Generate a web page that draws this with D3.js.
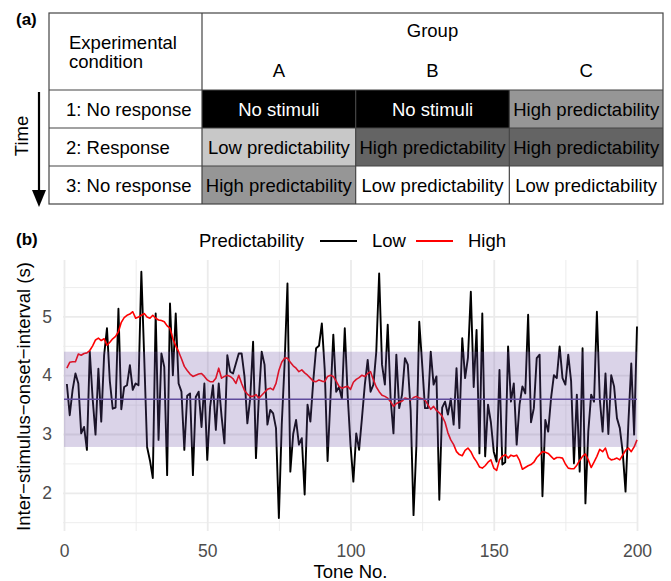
<!DOCTYPE html>
<html>
<head>
<meta charset="utf-8">
<script src="https://cdn.jsdelivr.net/npm/d3@7/dist/d3.min.js"></script>
<style>
	body { margin: 0; background: #fff; }
	text { font-family: "Liberation Sans", Arial, sans-serif; }
</style>
</head>
<body>
<div id="svg-div"></div>
<script>
// ---- panel (a) table content
var groups = ["A", "B", "C"];
var conditions = ["1: No response", "2: Response", "3: No response"];
var cellLabels = [
	["No stimuli", "No stimuli", "High predictability"],
	["Low predictability", "High predictability", "High predictability"],
	["High predictability", "Low predictability", "Low predictability"]
];

// ---- panel (b) data: inter-stimulus-onset-interval per tone
var seriesNames = ["Low", "High"];
var isiLow = [
	3.85, 3.32, 3.75, 4.03, 3.86, 3.01, 3.12, 2.73, 4.40, 3.60,
	2.99, 4.11, 3.21, 4.34, 4.80, 3.90, 3.43, 3.45, 5.13, 3.42,
	3.80, 3.83, 4.17, 3.75, 3.86, 3.83, 5.76, 4.30, 2.78, 2.55,
	2.25, 5.05, 2.90, 4.37, 4.14, 2.30, 5.22, 4.00, 5.05, 3.86,
	3.72, 2.73, 3.65, 3.69, 2.30, 3.63, 3.72, 3.12, 3.86, 2.56,
	3.46, 3.83, 3.07, 3.86, 3.30, 2.84, 4.34, 4.06, 4.03, 4.20,
	4.37, 4.37, 3.98, 3.18, 3.61, 4.57, 2.59, 3.61, 4.40, 4.18,
	3.16, 3.41, 3.35, 3.10, 1.57, 3.16, 4.20, 5.56, 2.36, 3.00,
	3.24, 2.82, 2.93, 1.97, 3.50, 3.21, 3.90, 4.46, 4.50, 4.88,
	4.10, 2.54, 3.60, 4.69, 3.72, 3.80, 3.60, 4.80, 3.67, 2.82,
	2.19, 3.01, 2.73, 3.27, 3.84, 4.26, 3.72, 3.84, 4.40, 5.73,
	4.18, 3.84, 4.86, 3.60, 3.01, 4.35, 3.44, 3.67, 4.29, 4.18,
	3.40, 1.62, 2.80, 4.91, 4.20, 3.44, 3.44, 4.40, 3.84, 3.98,
	1.88, 3.45, 3.55, 3.33, 3.60, 3.16, 4.12, 3.10, 4.63, 3.95,
	4.30, 5.42, 3.80, 4.77, 2.67, 5.05, 2.62, 3.50, 3.20, 2.70,
	2.53, 4.09, 2.48, 2.52, 4.49, 3.55, 3.86, 2.82, 3.50, 3.81,
	3.69, 5.03, 3.20, 3.44, 4.29, 4.35, 1.94, 3.24, 3.04, 3.61,
	4.00, 3.95, 4.49, 3.95, 3.84, 4.35, 3.90, 2.50, 3.67, 2.36,
	4.46, 1.82, 3.04, 3.67, 3.55, 5.08, 3.60, 3.04, 4.03, 3.00,
	4.00, 3.81, 3.27, 3.10, 2.70, 2.02, 3.20, 4.20, 2.99, 4.83
];
var isiHigh = [
	4.12, 4.22, 4.23, 4.23, 4.36, 4.34, 4.37, 4.38, 4.42, 4.50,
	4.60, 4.63, 4.59, 4.62, 4.51, 4.56, 4.62, 4.66, 4.74, 4.90,
	4.98, 5.02, 5.04, 5.08, 4.97, 4.99, 5.02, 5.05, 4.99, 4.97,
	5.02, 4.97, 4.94, 4.93, 4.91, 4.84, 4.80, 4.62, 4.50, 4.40,
	4.28, 4.15, 4.08, 4.02, 3.98, 4.00, 4.02, 4.03, 3.98, 3.92,
	3.89, 3.89, 3.95, 4.12, 3.95, 3.98, 4.00, 3.98, 3.94, 3.86,
	4.00, 3.86, 3.74, 3.68, 3.64, 3.64, 3.67, 3.61, 3.66, 3.71,
	3.76, 3.78, 3.75, 3.86, 4.08, 4.22, 4.29, 4.29, 4.22, 4.16,
	4.12, 4.06, 4.09, 4.04, 4.00, 3.95, 3.90, 3.89, 3.92, 3.90,
	3.89, 3.98, 4.00, 3.98, 3.90, 3.81, 3.78, 3.80, 3.81, 3.76,
	3.88, 3.93, 3.96, 4.00, 3.98, 4.03, 4.06, 3.92, 3.80, 3.72,
	3.66, 3.64, 3.61, 3.55, 3.47, 3.52, 3.54, 3.56, 3.61, 3.60,
	3.58, 3.62, 3.64, 3.61, 3.60, 3.58, 3.50, 3.42, 3.47, 3.40,
	3.36, 3.30, 3.20, 3.02, 2.90, 2.82, 2.70, 2.65, 2.63, 2.72,
	2.76, 2.70, 2.60, 2.53, 2.44, 2.42, 2.46, 2.52, 2.56, 2.42,
	2.38, 2.56, 2.62, 2.65, 2.59, 2.64, 2.62, 2.64, 2.55, 2.40,
	2.43, 2.46, 2.48, 2.52, 2.60, 2.65, 2.70, 2.69, 2.67, 2.62,
	2.57, 2.60, 2.60, 2.59, 2.49, 2.42, 2.41, 2.41, 2.47, 2.55,
	2.62, 2.66, 2.56, 2.43, 2.52, 2.62, 2.74, 2.70, 2.76, 2.60,
	2.56, 2.57, 2.59, 2.56, 2.64, 2.72, 2.76, 2.70, 2.78, 2.90
];
// mean +/- sd band of the low predictability series
var bandLower = 2.78;
var bandMean = 3.59;
var bandUpper = 4.40;

var xTicks = [0, 50, 100, 150, 200];
var xMinor = [25, 75, 125, 175];
var yTicks = [2, 3, 4, 5];
var yMinor = [1.5, 2.5, 3.5, 4.5, 5.5];

var svg = d3.select("#svg-div")
	.append("svg")
	.attr("width", 671)
	.attr("height", 581);

/**
 *  Panel (a)
 */
var table = {left: 49, right: 663, top: 13, headBottom: 90, bottom: 204, colStart: 202};

var colScale = d3.scaleBand()
	.domain(groups)
	.range([table.colStart, table.right]);

var rowScale = d3.scaleBand()
	.domain([0, 1, 2])
	.range([table.headBottom, table.bottom]);

function cellFill(label, row) {
	if (label == "No stimuli") return "#000";
	if (row == 1) {
		return label.indexOf("High") == 0 ? "#646464" : "#c8c8c8";
	}
	return label.indexOf("High") == 0 ? "#969696" : "#fff";
}

var cells = [];
cellLabels.forEach(function(row, i) {
	row.forEach(function(label, j) {
		cells.push({row: i, group: groups[j], label: label});
	});
});

var tableG = svg.append("g");

tableG.selectAll("rect.cell")
	.data(cells)
	.enter()
	.append("rect")
	.attr("class", "cell")
	.attr("x", function(d) { return colScale(d.group); })
	.attr("y", function(d) { return rowScale(d.row); })
	.attr("width", colScale.bandwidth())
	.attr("height", rowScale.bandwidth())
	.attr("fill", function(d) { return cellFill(d.label, d.row); });

tableG.selectAll("text.cell")
	.data(cells)
	.enter()
	.append("text")
	.attr("class", "cell")
	.attr("x", function(d) { return colScale(d.group) + colScale.bandwidth() / 2; })
	.attr("y", function(d) { return rowScale(d.row) + rowScale.bandwidth() / 2 + 6.5; })
	.attr("text-anchor", "middle")
	.style("font-size", "18.5px")
	.attr("fill", function(d) { return d.label == "No stimuli" ? "#fff" : "#000"; })
	.text(function(d) { return d.label; });

// table lines
var lineColor = "#444";
tableG.append("rect")
	.attr("x", table.left)
	.attr("y", table.top)
	.attr("width", table.right - table.left)
	.attr("height", table.bottom - table.top)
	.attr("fill", "none")
	.attr("stroke", lineColor)
	.attr("stroke-width", 1.2);

tableG.append("line")
	.attr("x1", table.colStart).attr("x2", table.colStart)
	.attr("y1", table.top).attr("y2", table.bottom)
	.attr("stroke", lineColor).attr("stroke-width", 1.2);

tableG.selectAll("line.col")
	.data(groups.slice(1))
	.enter()
	.append("line")
	.attr("class", "col")
	.attr("x1", function(d) { return colScale(d); })
	.attr("x2", function(d) { return colScale(d); })
	.attr("y1", table.headBottom)
	.attr("y2", table.bottom)
	.attr("stroke", lineColor).attr("stroke-width", 1.2);

tableG.selectAll("line.row")
	.data([0, 1, 2])
	.enter()
	.append("line")
	.attr("class", "row")
	.attr("x1", table.left)
	.attr("x2", table.right)
	.attr("y1", function(d) { return rowScale(d); })
	.attr("y2", function(d) { return rowScale(d); })
	.attr("stroke", lineColor).attr("stroke-width", 1.2);

// header
tableG.append("text")
	.attr("x", 69).attr("y", 49)
	.style("font-size", "18.5px")
	.text("Experimental");
tableG.append("text")
	.attr("x", 69).attr("y", 68)
	.style("font-size", "18.5px")
	.text("condition");
tableG.append("text")
	.attr("x", (table.colStart + table.right) / 2).attr("y", 37)
	.attr("text-anchor", "middle")
	.style("font-size", "18.5px")
	.text("Group");
tableG.selectAll("text.group")
	.data(groups)
	.enter()
	.append("text")
	.attr("class", "group")
	.attr("x", function(d) { return colScale(d) + colScale.bandwidth() / 2; })
	.attr("y", 77)
	.attr("text-anchor", "middle")
	.style("font-size", "18.5px")
	.text(function(d) { return d; });

tableG.selectAll("text.cond")
	.data(conditions)
	.enter()
	.append("text")
	.attr("class", "cond")
	.attr("x", 66)
	.attr("y", function(d, i) { return rowScale(i) + rowScale.bandwidth() / 2 + 6.5; })
	.style("font-size", "18.5px")
	.text(function(d) { return d; });

// time arrow
tableG.append("line")
	.attr("x1", 39).attr("x2", 39)
	.attr("y1", 92).attr("y2", 194)
	.attr("stroke", "#000").attr("stroke-width", 2.2);
tableG.append("path")
	.attr("d", "M32,190 L46,190 L39,207 Z")
	.attr("fill", "#000");
tableG.append("text")
	.attr("transform", "translate(28,136) rotate(-90)")
	.attr("text-anchor", "middle")
	.style("font-size", "18.5px")
	.text("Time");

svg.append("text")
	.attr("x", 16).attr("y", 25)
	.style("font-size", "17px")
	.style("font-weight", "bold")
	.text("(a)");

/**
 *  Panel (b)
 */
var plot = {left: 64, right: 637, top: 260, bottom: 531};

var xScale = d3.scaleLinear()
	.domain([0, 200])
	.range([plot.left, plot.right]);

var yScale = d3.scaleLinear()
	.domain([1.35, 5.96])
	.range([plot.bottom, plot.top]);

var gridColor = "#ebebeb";

// Gridlines
function drawGrid(axis, values, width, translate) {
	var g = svg.append("g")
		.attr("class", "grid")
		.attr("transform", translate)
		.call(axis.tickValues(values).tickFormat(""));
	g.select(".domain").remove();
	g.selectAll("line")
		.attr("stroke", gridColor)
		.attr("stroke-width", width);
}

drawGrid(d3.axisLeft(yScale).tickSize(-(plot.right - plot.left + 2)), yMinor, 0.9, "translate(" + (plot.left - 1) + ",0)");
drawGrid(d3.axisBottom(xScale).tickSize(-(plot.bottom - plot.top)), xMinor, 0.9, "translate(0," + plot.bottom + ")");
drawGrid(d3.axisLeft(yScale).tickSize(-(plot.right - plot.left + 2)), yTicks, 1.8, "translate(" + (plot.left - 1) + ",0)");
drawGrid(d3.axisBottom(xScale).tickSize(-(plot.bottom - plot.top)), xTicks, 1.8, "translate(0," + plot.bottom + ")");

// Axis labels
var xAxis = svg.append("g")
	.attr("transform", "translate(0," + plot.bottom + ")")
	.call(d3.axisBottom(xScale).tickValues(xTicks).tickFormat(d3.format("d")).tickSize(0).tickPadding(14));
var yAxis = svg.append("g")
	.attr("transform", "translate(" + plot.left + ",0)")
	.call(d3.axisLeft(yScale).tickValues(yTicks).tickFormat(d3.format("d")).tickSize(0).tickPadding(12));
[xAxis, yAxis].forEach(function(a) {
	a.select(".domain").remove();
	a.selectAll("text")
		.style("font-family", "'Liberation Sans', Arial, sans-serif")
		.style("font-size", "17.5px")
		.attr("fill", "#4d4d4d");
});

// Lines
var line = d3.line()
	.x(function(d, i) { return xScale(i + 1); })
	.y(function(d) { return yScale(d); });

svg.append("path")
	.datum(isiLow)
	.attr("d", line)
	.attr("fill", "none")
	.attr("stroke", "#000")
	.attr("stroke-width", 1.9)
	.attr("stroke-linejoin", "round");

svg.append("path")
	.datum(isiHigh)
	.attr("d", line)
	.attr("fill", "none")
	.attr("stroke", "#ff0000")
	.attr("stroke-width", 1.6)
	.attr("stroke-linejoin", "round");

// mean +/- sd band drawn on top
svg.append("rect")
	.attr("x", xScale(0))
	.attr("y", yScale(bandUpper))
	.attr("width", xScale(200) - xScale(0))
	.attr("height", yScale(bandLower) - yScale(bandUpper))
	.attr("fill", "#6a51a3")
	.attr("fill-opacity", 0.25);

svg.append("line")
	.attr("x1", xScale(0))
	.attr("x2", xScale(200))
	.attr("y1", yScale(bandMean))
	.attr("y2", yScale(bandMean))
	.attr("stroke", "#5e4a9c")
	.attr("stroke-width", 1.5);

// Titles
svg.append("text")
	.attr("x", (plot.left + plot.right) / 2)
	.attr("y", 578)
	.attr("text-anchor", "middle")
	.style("font-size", "18.5px")
	.text("Tone No.");

svg.append("text")
	.attr("transform", "translate(30," + ((plot.top + plot.bottom) / 2 + 1) + ") rotate(-90)")
	.attr("text-anchor", "middle")
	.style("font-size", "18.5px")
	.text("Inter\u2212stimulus\u2212onset\u2212interval (s)");

svg.append("text")
	.attr("x", 16).attr("y", 245)
	.style("font-size", "17px")
	.style("font-weight", "bold")
	.text("(b)");

// Legend
var legend = svg.append("g");
legend.append("text")
	.attr("x", 199).attr("y", 247)
	.style("font-size", "18.5px")
	.text("Predictability");

var legendX = d3.scaleOrdinal()
	.domain(seriesNames)
	.range([320, 416]);
var legendColor = d3.scaleOrdinal()
	.domain(seriesNames)
	.range(["#000", "#ff0000"]);

legend.selectAll("line.key")
	.data(seriesNames)
	.enter()
	.append("line")
	.attr("class", "key")
	.attr("x1", function(d) { return legendX(d); })
	.attr("x2", function(d) { return legendX(d) + 37; })
	.attr("y1", 241)
	.attr("y2", 241)
	.attr("stroke", function(d) { return legendColor(d); })
	.attr("stroke-width", 1.8);

legend.selectAll("text.key")
	.data(seriesNames)
	.enter()
	.append("text")
	.attr("class", "key")
	.attr("x", function(d) { return legendX(d) + 52; })
	.attr("y", 247)
	.style("font-size", "18.5px")
	.text(function(d) { return d; });
</script>
</body>
</html>
